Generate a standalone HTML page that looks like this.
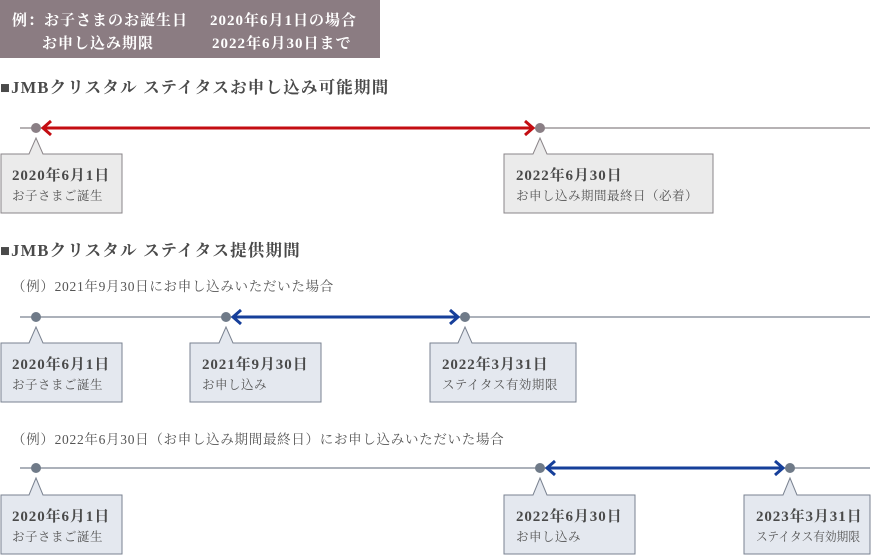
<!DOCTYPE html>
<html><head><meta charset="utf-8"><style>
html,body{margin:0;padding:0;background:#fff;width:890px;height:555px;overflow:hidden}
svg{display:block}
text{font-family:"Liberation Serif","Noto Serif CJK SC",serif}
.b{font-size:15px;font-weight:bold;fill:#4a4a4a;letter-spacing:0.9px}
.s{font-size:12.5px;fill:#555;letter-spacing:0.5px}
.h{font-size:16.5px;font-weight:bold;fill:#4a4a4a;letter-spacing:1.2px}
.sub{font-size:13.5px;fill:#555;letter-spacing:0.7px}
.w{font-size:15px;font-weight:bold;fill:#fff;letter-spacing:1px}
</style></head><body>
<svg width="890" height="555" viewBox="0 0 890 555" xmlns="http://www.w3.org/2000/svg">
<rect x="0" y="0" width="380" height="58" fill="#8b7c82"/>
<text x="12" y="25" class="w">例：お子さまのお誕生日</text>
<text x="210" y="25" class="w">2020年6月1日の場合</text>
<text x="42" y="48" class="w">お申し込み期限</text>
<text x="212" y="48" class="w">2022年6月30日まで</text>

<text x="0" y="93" class="h">■JMBクリスタル  ステイタスお申し込み可能期間</text>
<line x1="20" y1="128" x2="870" y2="128" stroke="#8a8488" stroke-width="1.2"/>
<line x1="44" y1="128" x2="532" y2="128" stroke="#c40d12" stroke-width="3"/>
<polyline points="51,121 43,128 51,135" fill="none" stroke="#c40d12" stroke-width="3"/>
<polyline points="525,121 533,128 525,135" fill="none" stroke="#c40d12" stroke-width="3"/>
<circle cx="36" cy="128" r="5" fill="#8a7f85"/>
<circle cx="540" cy="128" r="5" fill="#8a7f85"/>
<path d="M1,154 H29 L36,138 L43,154 H122 V213 H1 Z" fill="#ebebeb" stroke="#8a8488"/>
<text x="12" y="180" class="b">2020年6月1日</text>
<text x="12" y="200" class="s">お子さまご誕生</text>
<path d="M504,154 H533 L540,138 L547,154 H713 V213 H504 Z" fill="#ebebeb" stroke="#8a8488"/>
<text x="516" y="180" class="b">2022年6月30日</text>
<text x="516" y="200" class="s">お申し込み期間最終日（必着）</text>

<text x="0" y="256" class="h">■JMBクリスタル  ステイタス提供期間</text>
<text x="12" y="291" class="sub">（例）2021年9月30日にお申し込みいただいた場合</text>
<line x1="20" y1="317" x2="870" y2="317" stroke="#7a8290" stroke-width="1.2"/>
<line x1="234" y1="317" x2="457" y2="317" stroke="#163f9a" stroke-width="3"/>
<polyline points="241,310 233,317 241,324" fill="none" stroke="#163f9a" stroke-width="3"/>
<polyline points="450,310 458,317 450,324" fill="none" stroke="#163f9a" stroke-width="3"/>
<circle cx="36" cy="317" r="5" fill="#6f7a88"/>
<circle cx="226" cy="317" r="5" fill="#6f7a88"/>
<circle cx="465" cy="317" r="5" fill="#6f7a88"/>
<path d="M1,343 H29 L36,327 L43,343 H122 V402 H1 Z" fill="#e4e8ef" stroke="#7a8290"/>
<text x="12" y="369" class="b">2020年6月1日</text>
<text x="12" y="389" class="s">お子さまご誕生</text>
<path d="M190,343 H219 L226,327 L233,343 H321 V402 H190 Z" fill="#e4e8ef" stroke="#7a8290"/>
<text x="202" y="369" class="b">2021年9月30日</text>
<text x="202" y="389" class="s">お申し込み</text>
<path d="M430,343 H458 L465,327 L472,343 H576 V402 H430 Z" fill="#e4e8ef" stroke="#7a8290"/>
<text x="442" y="369" class="b">2022年3月31日</text>
<text x="442" y="389" class="s">ステイタス有効期限</text>

<text x="12" y="444" class="sub">（例）2022年6月30日（お申し込み期間最終日）にお申し込みいただいた場合</text>
<line x1="20" y1="468" x2="870" y2="468" stroke="#7a8290" stroke-width="1.2"/>
<line x1="548" y1="468" x2="782" y2="468" stroke="#163f9a" stroke-width="3"/>
<polyline points="555,461 547,468 555,475" fill="none" stroke="#163f9a" stroke-width="3"/>
<polyline points="775,461 783,468 775,475" fill="none" stroke="#163f9a" stroke-width="3"/>
<circle cx="36" cy="468" r="5" fill="#6f7a88"/>
<circle cx="540" cy="468" r="5" fill="#6f7a88"/>
<circle cx="790" cy="468" r="5" fill="#6f7a88"/>
<path d="M1,495 H29 L36,478 L43,495 H122 V554 H1 Z" fill="#e4e8ef" stroke="#7a8290"/>
<text x="12" y="521" class="b">2020年6月1日</text>
<text x="12" y="541" class="s">お子さまご誕生</text>
<path d="M504,495 H533 L540,478 L547,495 H635 V554 H504 Z" fill="#e4e8ef" stroke="#7a8290"/>
<text x="516" y="521" class="b">2022年6月30日</text>
<text x="516" y="541" class="s">お申し込み</text>
<path d="M744,495 H783 L790,478 L797,495 H870 V554 H744 Z" fill="#e4e8ef" stroke="#7a8290"/>
<text x="756" y="521" class="b">2023年3月31日</text>
<text x="756" y="541" class="s" style="letter-spacing:0" textLength="104" lengthAdjust="spacingAndGlyphs">ステイタス有効期限</text>
</svg>
</body></html>
